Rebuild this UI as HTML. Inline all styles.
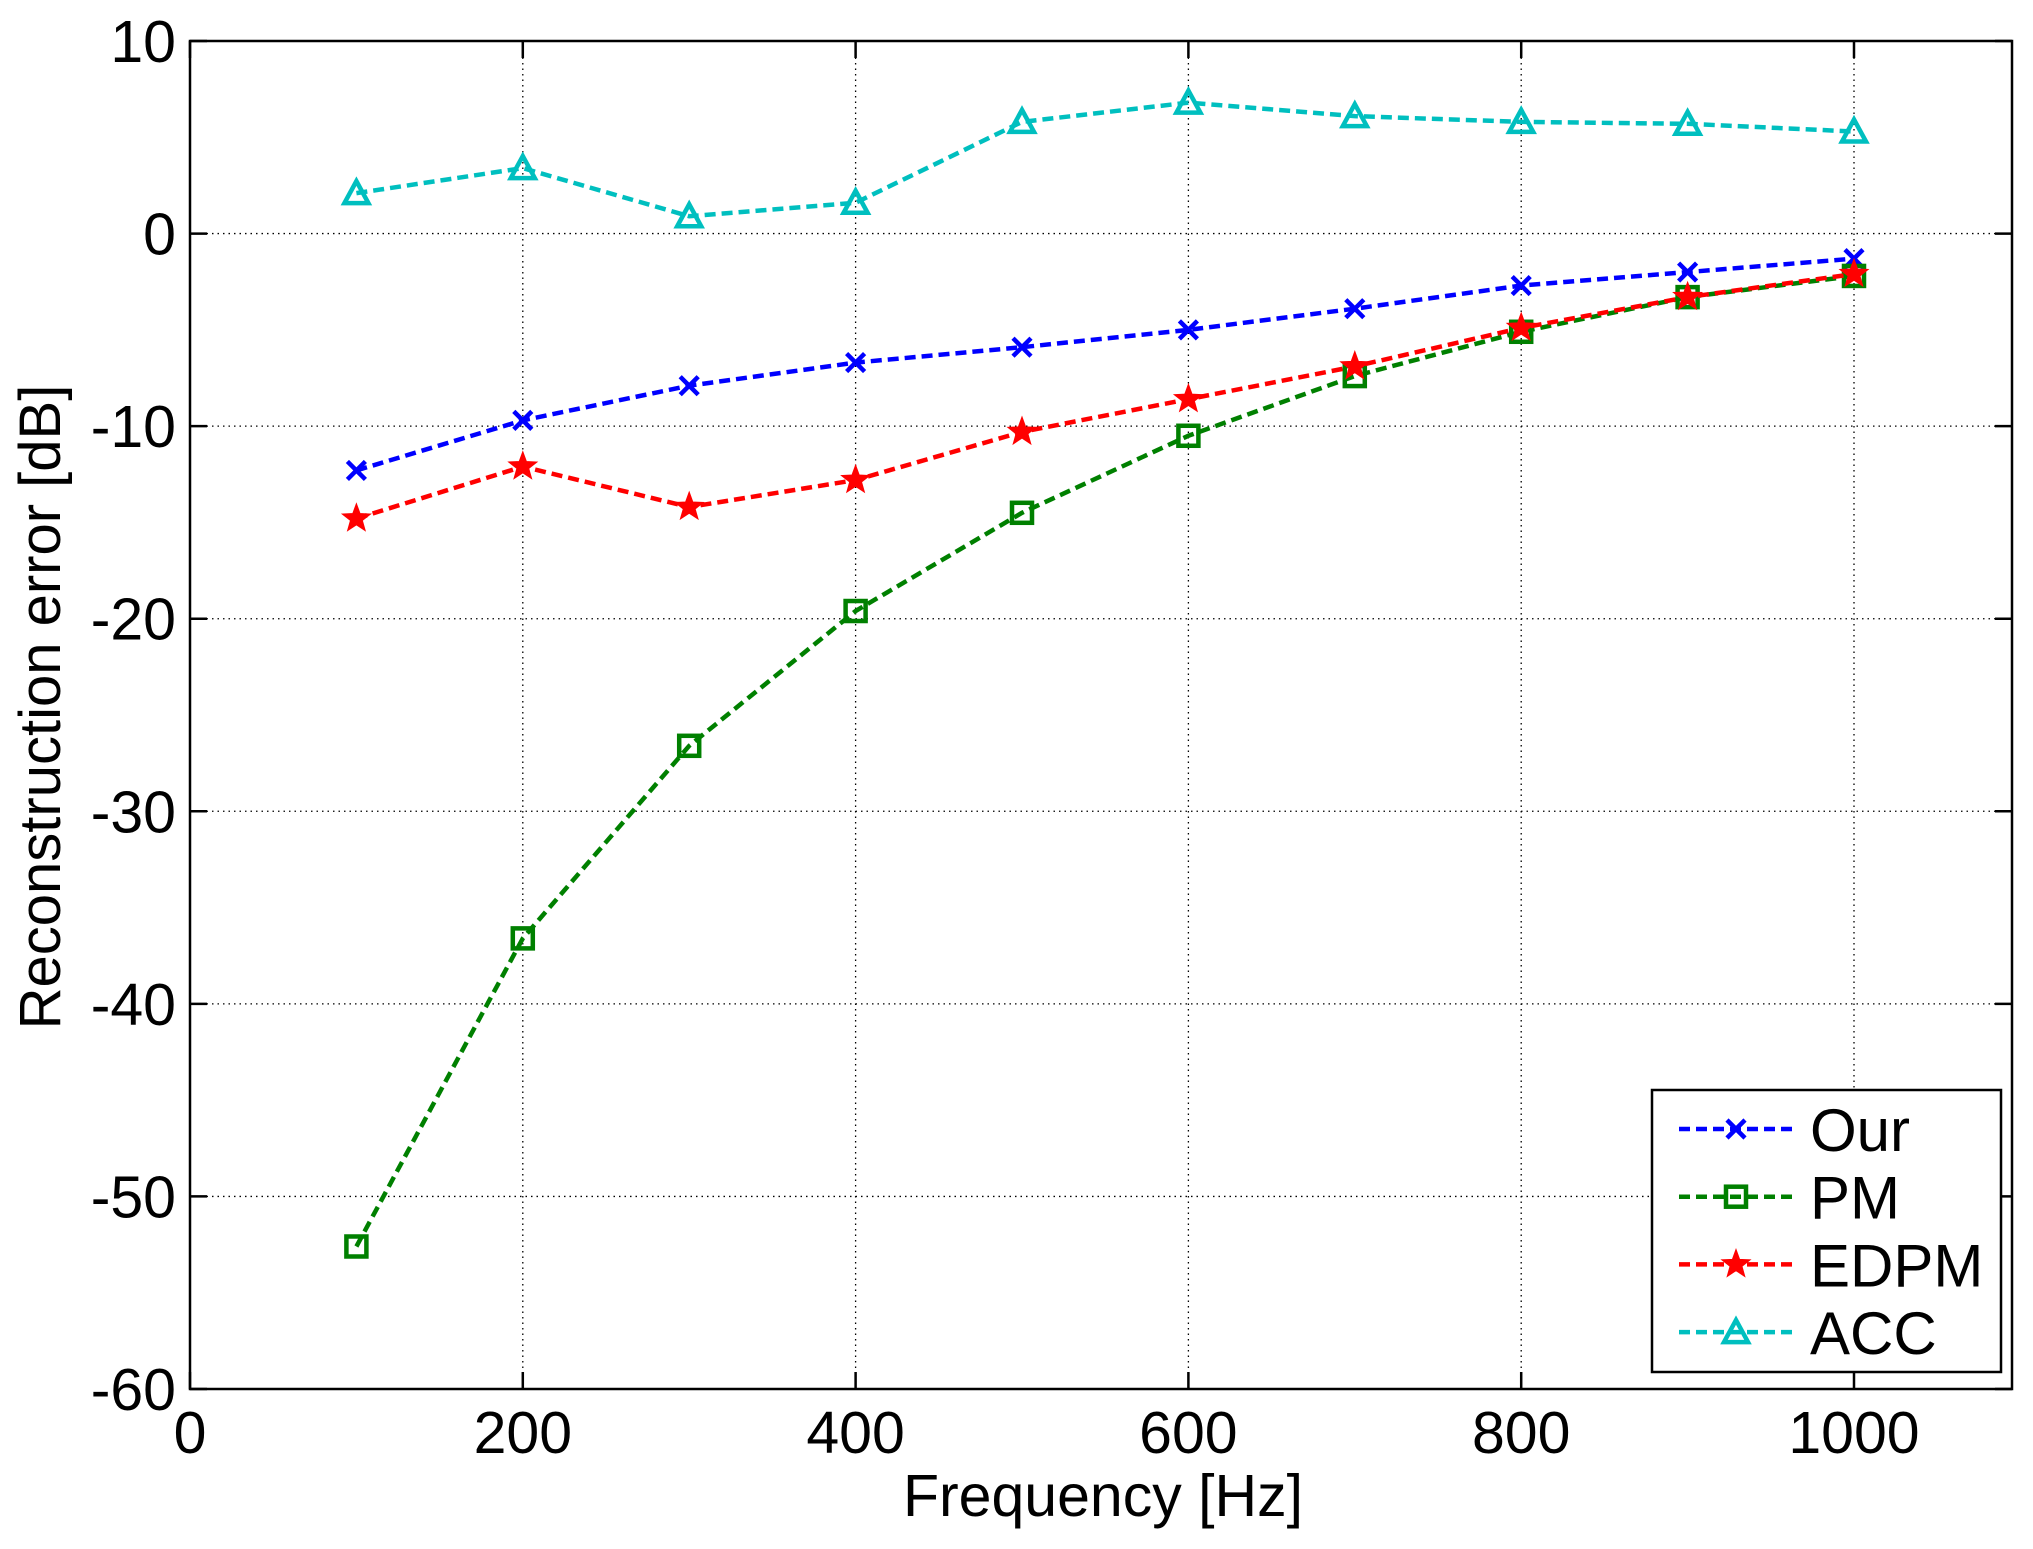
<!DOCTYPE html>
<html><head><meta charset="utf-8"><style>html,body{margin:0;padding:0;background:#fff}svg{display:block}</style></head>
<body>
<svg id="s" width="2033" height="1549" xmlns="http://www.w3.org/2000/svg" font-family="Liberation Sans, Arial, sans-serif"></svg>
<script>
const L=190,R=2012,T=41,B=1389,X1000=1854;
const X=v=>L+(X1000-L)*v/1000, Y=v=>T+(B-T)*(10-v)/70;
let h='';
for(let x=200;x<=1000;x+=200)h+=`<line x1="${X(x)}" y1="${T}" x2="${X(x)}" y2="${B}" stroke="#000" stroke-width="1.3" stroke-dasharray="1.5 4"/>`;
for(let y=0;y>=-50;y-=10)h+=`<line x1="${L}" y1="${Y(y)}" x2="${R}" y2="${Y(y)}" stroke="#000" stroke-width="1.3" stroke-dasharray="1.5 4"/>`;
for(let x=0;x<=1000;x+=200){h+=`<line x1="${X(x)}" y1="${B}" x2="${X(x)}" y2="${B-17}" stroke="#000" stroke-width="2.5"/><line x1="${X(x)}" y1="${T}" x2="${X(x)}" y2="${T+17}" stroke="#000" stroke-width="2.5"/>`;
 h+=`<text x="${X(x)}" y="1453" font-size="59" text-anchor="middle">${x}</text>`;}
for(let y=10;y>=-60;y-=10){h+=`<line x1="${L}" y1="${Y(y)}" x2="${L+17}" y2="${Y(y)}" stroke="#000" stroke-width="2.5"/><line x1="${R}" y1="${Y(y)}" x2="${R-17}" y2="${Y(y)}" stroke="#000" stroke-width="2.5"/>`;
 h+=`<text x="176" y="${Y(y)+21}" font-size="59" text-anchor="end">${y}</text>`;}
h+=`<rect x="${L}" y="${T}" width="${R-L}" height="${B-T}" fill="none" stroke="#000" stroke-width="2.5"/>`;
const xs=[100,200,300,400,500,600,700,800,900,1000];
const S=[
 ['#0000ff','x',[-12.3,-9.7,-7.9,-6.7,-5.9,-5.0,-3.9,-2.7,-2.0,-1.3],'Our'],
 ['#008000','s',[-52.6,-36.6,-26.6,-19.6,-14.5,-10.5,-7.4,-5.1,-3.3,-2.2],'PM'],
 ['#ff0000','p',[-14.8,-12.1,-14.2,-12.8,-10.3,-8.6,-6.9,-4.9,-3.3,-2.1],'EDPM'],
 ['#00bfbf','t',[2.1,3.4,0.9,1.6,5.8,6.8,6.1,5.8,5.7,5.3],'ACC']];
function mk(c,m,x,y){
 if(m=='x')return `<path d="M${x-9} ${y-9}L${x+9} ${y+9}M${x-9} ${y+9}L${x+9} ${y-9}" stroke="${c}" stroke-width="4.5"/>`;
 if(m=='s')return `<rect x="${x-10}" y="${y-10}" width="20" height="20" fill="none" stroke="${c}" stroke-width="4.5"/>`;
 if(m=='t')return `<path d="M${x} ${y-12}L${x+12} ${y+10}L${x-12} ${y+10}Z" fill="none" stroke="${c}" stroke-width="4.5"/>`;
 let p=[];for(let i=0;i<10;i++){const r=i%2?5:12,a=-Math.PI/2+i*Math.PI/5;p.push((x+r*Math.cos(a)).toFixed(1)+' '+(y+r*Math.sin(a)).toFixed(1));}
 return `<path d="M${p.join('L')}Z" fill="${c}" stroke="${c}" stroke-width="3"/>`;}
S.forEach(([c,m,d])=>{h+=`<polyline points="${xs.map((x,i)=>X(x)+','+Y(d[i])).join(' ')}" fill="none" stroke="${c}" stroke-width="4.5" stroke-dasharray="11 6"/>`;
 xs.forEach((x,i)=>h+=mk(c,m,X(x),Y(d[i])));});
h+=`<rect x="1652" y="1090" width="349" height="282" fill="#fff" stroke="#000" stroke-width="2.5"/>`;
S.forEach(([c,m,d,n],i)=>{const y=1129+i*67.7;h+=`<line x1="1679" y1="${y}" x2="1798" y2="${y}" stroke="${c}" stroke-width="4.5" stroke-dasharray="11 6"/>`+mk(c,m,1736,y)+`<text x="1810" y="${y+22}" font-size="60">${n}</text>`;});
h+=`<text x="1103" y="1516" font-size="59" text-anchor="middle">Frequency [Hz]</text>`;
h+=`<text transform="translate(60,707) rotate(-90)" font-size="58" text-anchor="middle">Reconstruction error [dB]</text>`;
document.getElementById('s').innerHTML=h;
</script>
</body></html>
